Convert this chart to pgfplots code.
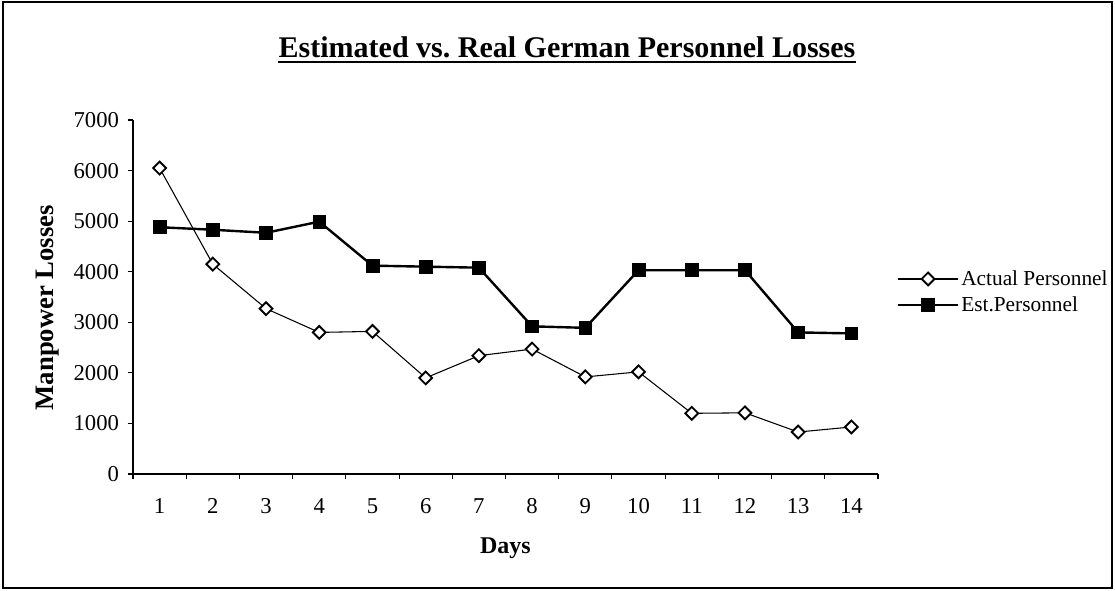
\documentclass[border=0pt]{standalone}
\usepackage{fontspec}
\setmainfont{Liberation Serif}
\usepackage{pgfplots}
\pgfplotsset{compat=1.18}
\begin{document}
\begin{tikzpicture}
\useasboundingbox (-99.75pt,-87pt) rectangle (736.5pt,355.5pt);
\draw[line width=0.8pt] (-97.5pt,-85.5pt) rectangle (734.25pt,354pt);
\begin{axis}[
  at={(0pt,0pt)}, anchor=south west,
  width=558.75pt, height=265.5pt, scale only axis,
  xmin=0.5, xmax=14.5, ymin=0, ymax=7000,
  axis x line*=bottom, axis y line*=left,
  axis line style={line width=0.9pt,-},
  xtick={0.5,1.5,...,14.5}, x tick label as interval,
  xticklabels={1,2,3,4,5,6,7,8,9,10,11,12,13,14},
  ytick={0,1000,...,7000},
  tick align=outside, major tick length=4pt,
  tick style={black, line width=0.8pt},
  scaled y ticks=false,
  yticklabel style={/pgf/number format/1000 sep={}, xshift=-3pt},
  xticklabel style={yshift=-10pt, text height=12pt, text depth=3pt},
  /pgf/number format/assume math mode=true,
  tick label style={font=\fontsize{17}{19}\selectfont},
  legend style={draw=none, fill=none, at={(1.025,0.514)}, anchor=west,
    font=\fontsize{16}{18}\selectfont, row sep=4pt, inner sep=0pt,
    nodes={inner sep=1.5pt}},
  legend cell align=left,
  legend image code/.code={\draw[mark repeat=2,mark phase=2,#1] plot coordinates {(0pt,0pt) (22.5pt,0pt) (45pt,0pt)};},
  clip=false,
]
\addplot[black, line width=0.8pt, mark=square*, mark size=3.4pt,
  mark options={rotate=45, fill=white, draw=black, line width=1.4pt, solid}]
  coordinates {(1,6050)(2,4150)(3,3270)(4,2800)(5,2820)(6,1900)(7,2340)(8,2470)(9,1920)(10,2020)(11,1200)(12,1210)(13,830)(14,930)};
\addlegendentry{Actual Personnel}
\addplot[black, line width=1.8pt, mark=square*, mark size=4.8pt,
  mark options={fill=black, line width=0.5pt, solid}]
  coordinates {(1,4880)(2,4830)(3,4770)(4,4990)(5,4120)(6,4100)(7,4080)(8,2920)(9,2890)(10,4030)(11,4030)(12,4030)(13,2800)(14,2780)};
\addlegendentry{Est.Personnel}
\node[anchor=base, font=\bfseries\fontsize{22.5}{26}\selectfont, inner sep=0pt] (t) at (axis description cs:0.5826,1.178) {Estimated vs.\ Real German Personnel Losses};
\node[rotate=90, font=\bfseries\fontsize{20}{22}\selectfont] at (axis description cs:-0.115,0.47) {Manpower Losses};
\node[font=\bfseries\fontsize{18}{20}\selectfont] at (axis description cs:0.5,-0.21) {Days};
\end{axis}
\draw[line width=1.6pt] ([yshift=-4pt]t.base west) -- ([yshift=-4pt]t.base east);
\end{tikzpicture}
\end{document}
